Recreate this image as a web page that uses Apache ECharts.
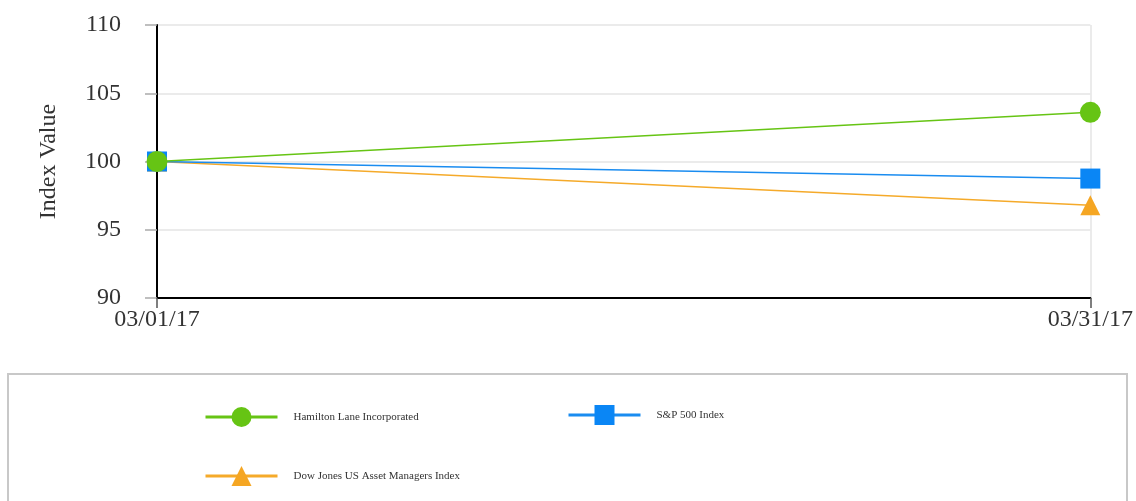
<!DOCTYPE html>
<html><head><meta charset="utf-8">
<script src="https://cdn.jsdelivr.net/npm/echarts@6/dist/echarts.min.js"></script>
<style>html,body{margin:0;padding:0;background:#fff}#c{width:1136px;height:501px}</style>
</head><body><div id="c"></div>
<script>
const categories = ['03/01/17', '03/31/17'];
const hamilton = [100, 103.6];
const sp500 = [100, 98.75];
const dowJones = [100, 96.8];
const seriesNames = ['Hamilton Lane Incorporated', 'S&P 500 Index', 'Dow Jones US Asset Managers Index'];
const yTicks = { min: 90, max: 110, interval: 5 };

const font = 'Liberation Serif';
const chart = echarts.init(document.getElementById('c'), null, { renderer: 'canvas' });
const legendText = { fontFamily: font, fontSize: 11, color: '#333', padding: [0, 0, 0, 11] };
const mkLegend = (name, left, top) => ({
  data: [name], left, top, padding: 0, itemWidth: 72, itemHeight: 25,
  lineStyle: { width: 3 }, textStyle: legendText, selectedMode: false
});
chart.setOption({
  animation: false,
  graphic: [{ type: 'rect', shape: { x: 8, y: 374, width: 1119, height: 140 }, style: { fill: 'none', stroke: '#c8c8c8', lineWidth: 2 }, z: -1 }],
  legend: [
    mkLegend(seriesNames[0], 204, 407),
    mkLegend(seriesNames[1], 567, 405),
    mkLegend(seriesNames[2], 204, 466)
  ],
  grid: { left: 157, right: 45, top: 25, bottom: 203 },
  xAxis: {
    type: 'category', data: categories, boundaryGap: false,
    axisLine: { lineStyle: { color: '#000', width: 2 } },
    axisTick: { show: true, length: 10, lineStyle: { color: '#555', width: 1.5 } },
    axisLabel: { fontFamily: font, fontSize: 24, color: '#333', margin: 10 },
    splitLine: { show: true, lineStyle: { color: '#e4e4e4', width: 1.5 } }
  },
  yAxis: {
    type: 'value', min: yTicks.min, max: yTicks.max, interval: yTicks.interval,
    name: 'Index Value', nameLocation: 'middle', nameGap: 96, nameRotate: 90,
    nameTextStyle: { fontFamily: font, fontSize: 24, color: '#333' },
    axisLine: { show: true, lineStyle: { color: '#000', width: 2 } },
    axisTick: { show: true, length: 12, lineStyle: { color: '#aaa', width: 1.5 } },
    axisLabel: { fontFamily: font, fontSize: 24, color: '#333', margin: 36 },
    splitLine: { show: true, lineStyle: { color: '#e4e4e4', width: 1.5 } }
  },
  series: [
    { name: seriesNames[0], type: 'line', data: hamilton, symbol: 'circle', symbolSize: 21, z: 5,
      itemStyle: { color: '#66c414' }, lineStyle: { color: '#66c414', width: 1.5 } },
    { name: seriesNames[1], type: 'line', data: sp500, symbol: 'rect', symbolSize: 20, z: 4,
      itemStyle: { color: '#0a86f5' }, lineStyle: { color: '#1a8cf0', width: 1.5 } },
    { name: seriesNames[2], type: 'line', data: dowJones, symbol: 'triangle', symbolSize: 20, z: 3,
      itemStyle: { color: '#f5a623' }, lineStyle: { color: '#f5aa2a', width: 1.5 } }
  ]
});
</script></body></html>
